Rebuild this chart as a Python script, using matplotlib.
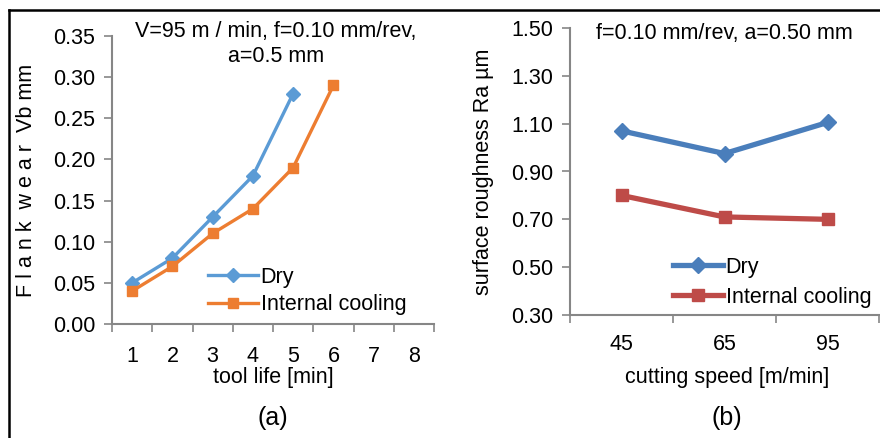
import matplotlib
matplotlib.use('Agg')
import matplotlib.pyplot as plt
from matplotlib.lines import Line2D

plt.rcParams['font.family'] = ['Liberation Sans', 'DejaVu Sans']

# panel (a): tool life vs flank wear
life_cats = [1, 2, 3, 4, 5, 6, 7, 8]
wear_dry = [0.05, 0.08, 0.13, 0.18, 0.28]
wear_cool = [0.04, 0.07, 0.11, 0.14, 0.19, 0.29]

# panel (b): cutting speed vs roughness
speed_labels = ['45', '65', '95']
ra_dry = [1.07, 0.975, 1.105]
ra_cool = [0.80, 0.71, 0.70]

W, H = 880, 438
fig = plt.figure(figsize=(W / 100, H / 100), dpi=100)

def box(x0, y0, x1, y1):
    return [x0 / W, 1 - y1 / H, (x1 - x0) / W, (y1 - y0) / H]

axis_grey = '#868686'
fs = 15.5

def style(ax, xpad):
    for s in ['top', 'right']:
        ax.spines[s].set_visible(False)
    for s in ['left', 'bottom']:
        ax.spines[s].set_color(axis_grey)
        ax.spines[s].set_linewidth(1.5)
    ax.tick_params(axis='y', which='major', direction='out', length=6,
                   color=axis_grey, width=1.2, labelsize=fs, pad=6)
    ax.tick_params(axis='x', which='major', length=0, labelsize=fs, pad=xpad)
    ax.tick_params(axis='x', which='minor', direction='out', length=6,
                   color=axis_grey, width=1.2)

# ---- (a)
ax1 = fig.add_axes(box(112, 36, 434, 324))
xa = list(range(1, len(wear_dry) + 1))
xb = list(range(1, len(wear_cool) + 1))
ax1.plot(xa, wear_dry, color='#5B9BD5', lw=2.4, marker='D', ms=7, label='Dry')
ax1.plot(xb, wear_cool, color='#ED7D31', lw=2.4, marker='s', ms=7,
         label='Internal cooling')
ax1.set_xlim(0.5, len(life_cats) + 0.5)
ax1.set_ylim(0, 0.35)
ax1.set_yticks([0.0, 0.05, 0.10, 0.15, 0.20, 0.25, 0.30, 0.35])
ax1.set_yticklabels(['%.2f' % v for v in ax1.get_yticks()])
ax1.set_xticks(range(1, len(life_cats) + 1))
ax1.set_xticklabels([str(c) for c in life_cats])
ax1.set_xticks([i + 0.5 for i in range(0, len(life_cats) + 1)], minor=True)
style(ax1, 16)
ax1.legend(loc='upper left', bbox_to_anchor=(208 / W, 1 - 267 / H),
           bbox_transform=fig.transFigure, frameon=False, fontsize=fs,
           handlelength=2.3, handletextpad=0.15, labelspacing=0.3,
           borderpad=0, borderaxespad=0)

fig.text(276 / W, 1 - 32 / H, 'V=95 m / min, f=0.10 mm/rev,', ha='center',
         va='center', fontsize=fs)
fig.text(276 / W, 1 - 56 / H, 'a=0.5 mm', ha='center', va='center', fontsize=fs)
fig.text(27 / W, 1 - 180 / H, 'F l a n k  w e a r  Vb mm', rotation=90,
         ha='center', va='center', fontsize=fs)
fig.text(273 / W, 1 - 378 / H, 'tool life [min]', ha='center', va='center',
         fontsize=fs)
fig.text(273 / W, 1 - 418 / H, '(a)', ha='center', va='center', fontsize=18)

# ---- (b)
ax2 = fig.add_axes(box(570, 28, 879, 315))
xs = list(range(len(speed_labels)))
ax2.plot(xs, ra_dry, color='#4A7EBB', lw=3.8, marker='D', ms=8, label='Dry')
ax2.plot(xs, ra_cool, color='#BE4B48', lw=3.8, marker='s', ms=8,
         label='Internal cooling')
ax2.set_xlim(-0.5, len(speed_labels) - 0.5)
ax2.set_ylim(0.3, 1.5)
ax2.set_yticks([0.30, 0.50, 0.70, 0.90, 1.10, 1.30, 1.50])
ax2.set_yticklabels(['%.2f' % v for v in ax2.get_yticks()])
ax2.set_xticks(xs)
ax2.set_xticklabels(speed_labels)
ax2.set_xticks([i - 0.5 for i in range(len(speed_labels) + 1)], minor=True)
style(ax2, 14)
ax2.legend(loc='upper left', bbox_to_anchor=(673 / W, 1 - 257 / H),
           bbox_transform=fig.transFigure, frameon=False, fontsize=fs,
           handlelength=2.3, handletextpad=0.15, labelspacing=0.4,
           borderpad=0, borderaxespad=0)

fig.text(724 / W, 1 - 33 / H, 'f=0.10 mm/rev, a=0.50 mm', ha='center',
         va='center', fontsize=fs)
fig.text(483 / W, 1 - 172 / H, 'surface roughness Ra µm', rotation=90,
         ha='center', va='center', fontsize=fs)
fig.text(727 / W, 1 - 378 / H, 'cutting speed [m/min]', ha='center',
         va='center', fontsize=fs)
fig.text(727 / W, 1 - 418 / H, '(b)', ha='center', va='center', fontsize=18)

# frame lines (left and top)
fig.add_artist(Line2D([8.5 / W, 8.5 / W], [0, 1 - 10 / H], color='black',
                      lw=1.8, transform=fig.transFigure))
fig.add_artist(Line2D([8.5 / W, 1], [1 - 10 / H, 1 - 10 / H], color='black',
                      lw=1.8, transform=fig.transFigure))

fig.savefig('out.png', dpi=100)
